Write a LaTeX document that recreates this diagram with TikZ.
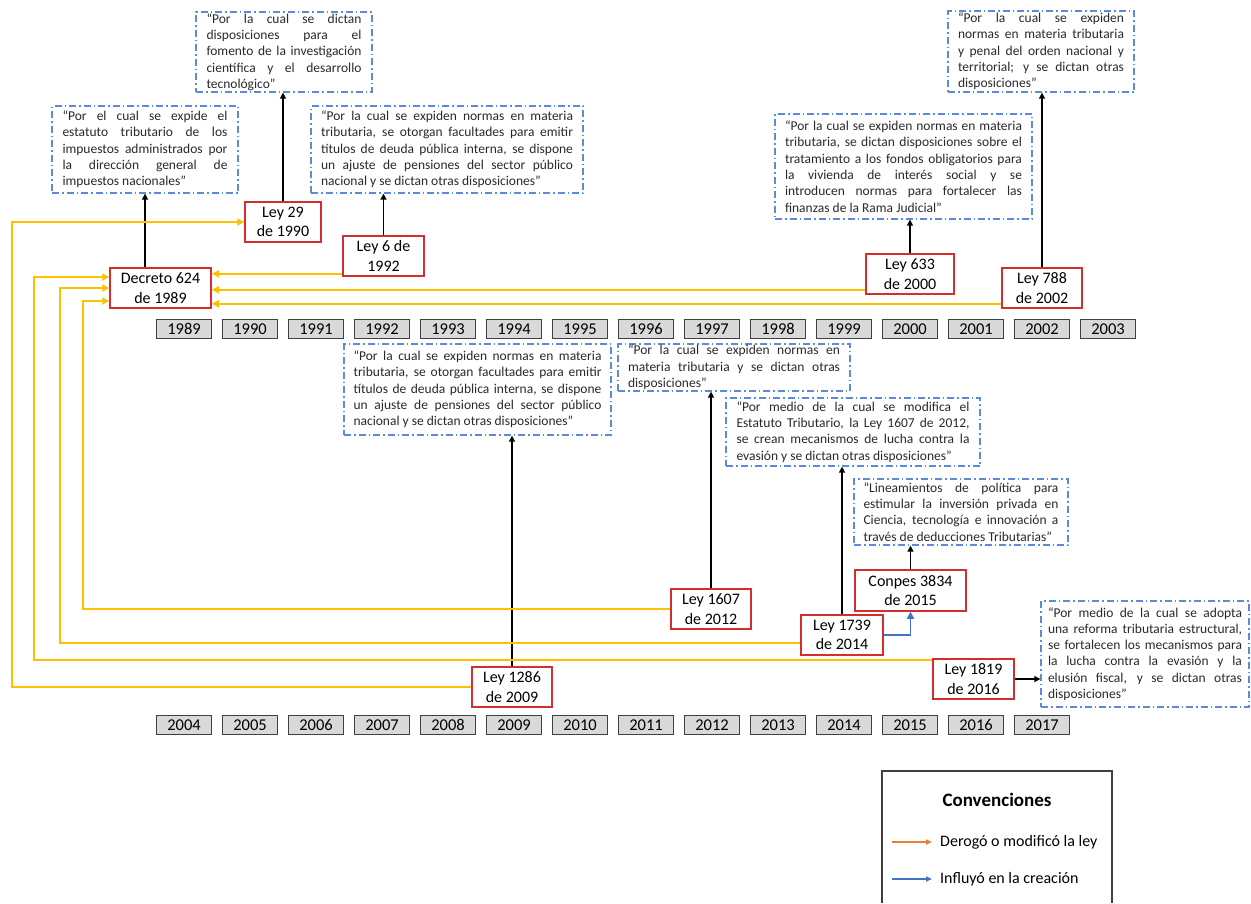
\documentclass[tikz,border=0pt]{standalone}
\usepackage{fontspec}
\setmainfont{Carlito}
\usetikzlibrary{arrows.meta}
\definecolor{lawred}{HTML}{D32F2F}
\definecolor{descblue}{HTML}{5B8BD9}
\definecolor{desctext}{HTML}{2A2A2A}
\definecolor{yearfill}{HTML}{D9D9D9}
\definecolor{yeargray}{HTML}{404040}
\definecolor{gold}{HTML}{FFC000}
\definecolor{legorange}{HTML}{ED7D31}
\definecolor{blueline}{HTML}{4472C4}
\newcommand\jl[2]{\makebox[#1][s]{#2}}
\begin{document}
\begin{tikzpicture}[x=1pt,y=-1pt,
  lawbox/.style={draw=lawred, line width=1.5pt, fill=white, align=center,
    font=\fontsize{16}{19.5}\selectfont, inner sep=0pt, minimum height=40pt},
  descbox/.style={draw=descblue, line width=1.3pt,
    dash pattern=on 7pt off 3pt on 1.5pt off 3pt, align=left,
    font=\fontsize{13.5}{16.3}\selectfont, text=desctext, inner sep=0pt},
  yearbox/.style={draw=yeargray, line width=1.6pt, fill=yearfill,
    minimum width=55pt, minimum height=19pt, inner sep=0pt,
    font=\fontsize{16.5}{19}\selectfont},
  blk/.style={-{Triangle[length=6pt,width=6pt]}, line width=1.8pt},
  org/.style={draw=gold, line width=1.9pt, -{Triangle[length=7pt,width=7pt]}},
  blu/.style={draw=blueline, line width=1.9pt, -{Triangle[length=7pt,width=7pt]}},
  legarr/.style={line width=1.6pt, -{Triangle[length=6pt,width=5pt]}}
]
\fill[white] (0,0) rectangle (1251,903);
\useasboundingbox (0,0) rectangle (1251,903);

% year rows
\foreach \y [count=\i from 0] in {1989,...,2003}{
  \node[yearbox] (y\y) at (184+66*\i,329) {\y};
}
\foreach \y [count=\i from 0] in {2004,...,2017}{
  \node[yearbox] (y\y) at (184+66*\i,725) {\y};
}

% law boxes
\node[lawbox, minimum width=76pt] (l29) at (283,222) {Ley 29\\de 1990};
\node[lawbox, minimum width=81pt] (l6) at (383.5,256) {Ley 6 de\\1992};
\node[lawbox, minimum width=101pt] (dec) at (160.5,288) {Decreto 624\\de 1989};
\node[lawbox, minimum width=88pt] (l633) at (910,274) {Ley 633\\de 2000};
\node[lawbox, minimum width=80pt] (l788) at (1042,288) {Ley 788\\de 2002};
\node[lawbox, minimum width=80pt] (l1286) at (512,687) {Ley 1286\\de 2009};
\node[lawbox, minimum width=80pt] (l1607) at (711,609) {Ley 1607\\de 2012};
\node[lawbox, minimum width=82pt] (l1739) at (842,635) {Ley 1739\\de 2014};
\node[lawbox, minimum width=111pt, minimum height=41pt] (conpes) at (910.5,590.5) {Conpes 3834\\de 2015};
\node[lawbox, minimum width=81pt] (l1819) at (973.5,679) {Ley 1819\\de 2016};

% description boxes
\node[descbox, minimum width=176pt, minimum height=80pt] (A) at (284,52) {%
\jl{155pt}{“Por la cual se dictan}\\
\jl{155pt}{disposiciones para el}\\
\jl{155pt}{fomento de la investigación}\\
\jl{155pt}{científica y el desarrollo}\\
tecnológico”};
\node[descbox, minimum width=186pt, minimum height=87pt] (B) at (145,149.5) {%
\jl{165pt}{“Por el cual se expide el}\\
\jl{165pt}{estatuto tributario de los}\\
\jl{165pt}{impuestos administrados por}\\
\jl{165pt}{la dirección general de}\\
impuestos nacionales”};
\node[descbox, minimum width=272pt, minimum height=87pt] (C) at (447,149.5) {%
\jl{252pt}{“Por la cual se expiden normas en materia}\\
\jl{252pt}{tributaria, se otorgan facultades para emitir}\\
\jl{252pt}{títulos de deuda pública interna, se dispone}\\
\jl{252pt}{un ajuste de pensiones del sector público}\\
nacional y se dictan otras disposiciones”};
\node[descbox, minimum width=186pt, minimum height=81pt] (D) at (1041,51.5) {%
\jl{166pt}{“Por la cual se expiden}\\
\jl{166pt}{normas en materia tributaria}\\
\jl{166pt}{y penal del orden nacional y}\\
\jl{166pt}{territorial; y se dictan otras}\\
disposiciones”};
\node[descbox, minimum width=257pt, minimum height=105pt] (E) at (903.5,166.5) {%
\jl{237pt}{“Por la cual se expiden normas en materia}\\
\jl{237pt}{tributaria, se dictan disposiciones sobre el}\\
\jl{237pt}{tratamiento a los fondos obligatorios para}\\
\jl{237pt}{la vivienda de interés social y se}\\
\jl{237pt}{introducen normas para fortalecer las}\\
finanzas de la Rama Judicial”};
\node[descbox, minimum width=267pt, minimum height=91pt] (F) at (477.5,389.5) {%
\jl{248pt}{“Por la cual se expiden normas en materia}\\
\jl{248pt}{tributaria, se otorgan facultades para emitir}\\
\jl{248pt}{títulos de deuda pública interna, se dispone}\\
\jl{248pt}{un ajuste de pensiones del sector público}\\
nacional y se dictan otras disposiciones”};
\node[descbox, minimum width=232pt, minimum height=47pt] (G) at (734,367.5) {%
\jl{212pt}{“Por la cual se expiden normas en}\\
\jl{212pt}{materia tributaria y se dictan otras}\\
disposiciones”};
\node[descbox, minimum width=254pt, minimum height=68pt] (H) at (853,432) {%
\jl{233pt}{“Por medio de la cual se modifica el}\\
\jl{233pt}{Estatuto Tributario, la Ley 1607 de 2012,}\\
\jl{233pt}{se crean mecanismos de lucha contra la}\\
evasión y se dictan otras disposiciones”};
\node[descbox, minimum width=214pt, minimum height=66pt] (I) at (961,512) {%
\jl{195pt}{“Lineamientos de política para}\\
\jl{195pt}{estimular la inversión privada en}\\
\jl{195pt}{Ciencia, tecnología e innovación a}\\
través de deducciones Tributarias”};
\node[descbox, minimum width=208pt, minimum height=106pt] (J) at (1145,654) {%
\jl{194pt}{“Por medio de la cual se adopta}\\
\jl{194pt}{una reforma tributaria estructural,}\\
\jl{194pt}{se fortalecen los mecanismos para}\\
\jl{194pt}{la lucha contra la evasión y la}\\
\jl{194pt}{elusión fiscal, y se dictan otras}\\
disposiciones”};

% black arrows to descriptions
\draw[blk] (B.south |- dec.north) -- (B.south);
\draw[blk] (l29.north) -- (l29.north |- A.south);
\draw[blk] (l6.north) -- (l6.north |- C.south);
\draw[blk] (l633.north) -- (l633.north |- E.south);
\draw[blk] (l788.north) -- (l788.north |- D.south);
\draw[blk] (l1286.north) -- (l1286.north |- F.south);
\draw[blk] (l1607.north) -- (l1607.north |- G.south);
\draw[blk] (l1739.north) -- (l1739.north |- H.south);
\draw[blk] (conpes.north) -- (conpes.north |- I.south);
\draw[blk] (l1819.east) -- (l1819.east -| J.west);

% blue influence
\draw[blu] (l1739.east) -| (conpes.south);

% orange connectors
\coordinate (k0) at (12,0);
\coordinate (k1) at (34,0);
\coordinate (k2) at (60,0);
\coordinate (k3) at (83,0);
\draw[org] (l1286.west) -- (l1286.west -| k0) |- (l29.west);
\coordinate (s1819) at ([yshift=-2pt]l1819.north west);
\coordinate (t1) at ([yshift=11pt]dec.west);
\draw[org] (s1819) -- (s1819 -| k1) |- (t1);
\coordinate (s1739) at ([yshift=-8pt]l1739.west);
\draw[org] (s1739) -- (s1739 -| k2) |- (dec.west);
\coordinate (t3) at ([yshift=-13pt]dec.west);
\draw[org] (l1607.west) -- (l1607.west -| k3) |- (t3);
\coordinate (s6) at ([yshift=3pt]l6.south west);
\draw[org] (s6) -- (s6 -| dec.east);
\coordinate (s633) at ([yshift=5pt]l633.south west);
\draw[org] (s633) -- (s633 -| dec.east);
\coordinate (s788) at ([yshift=5pt]l788.south west);
\draw[org] (s788) -- (s788 -| dec.east);

% legend
\draw[line width=1.1pt, draw=yeargray] (882,903) |- (1112,771) -- (1112,903);
\node[font=\bfseries\fontsize{19}{22}\selectfont] (conv) at (997,800) {Convenciones};
\coordinate (lo1) at (892,842);
\coordinate (lo2) at (932,842);
\draw[legarr, draw=legorange] (lo1) -- (lo2);
\node[anchor=west, font=\fontsize{16}{19}\selectfont, inner sep=0pt] (lt1) at (940,842) {Derogó o modificó la ley};
\coordinate (lb1) at (892,879);
\coordinate (lb2) at (932,879);
\draw[legarr, draw=blueline] (lb1) -- (lb2);
\node[anchor=west, font=\fontsize{16}{19}\selectfont, inner sep=0pt] (lt2) at (940,879) {Influyó en la creación};
\end{tikzpicture}
\end{document}
